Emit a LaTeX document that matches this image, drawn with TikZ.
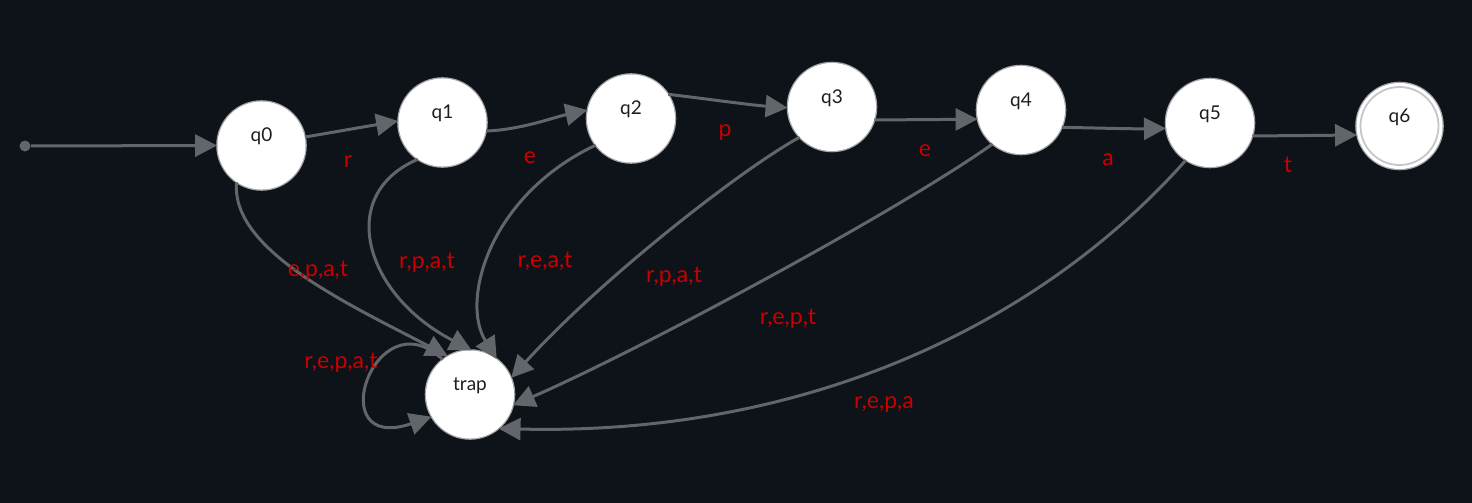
\documentclass[tikz,border=0pt]{standalone}
\usepackage{fontspec}
\setmainfont{Lato}
\usetikzlibrary{arrows.meta}
\definecolor{bgdark}{RGB}{14,18,25}
\definecolor{edgegray}{RGB}{98,101,105}
\definecolor{lblred}{RGB}{200,0,0}
\definecolor{statetxt}{RGB}{30,30,30}
\tikzset{
  state/.style={circle, fill=white, minimum size=44pt, inner sep=0pt,
    preaction={draw=white!62!bgdark, line width=1.3pt}},
  statename/.style={text=statetxt, font=\fontsize{9.5}{11}\selectfont, yshift=4.4pt},
  startdot/.style={circle, fill=edgegray, minimum size=5.5pt, inner sep=0pt},
  edge/.style={draw=edgegray, line width=1.5pt, -{Triangle[length=11pt,width=11pt]}},
  lbl/.style={text=lblred, font=\fontsize{11.5}{13}\selectfont, inner sep=0pt}
}
\begin{document}
\begin{tikzpicture}[x=0.5pt,y=-0.5pt]
  \fill[bgdark] (0,0) rectangle (1472,503);
  \useasboundingbox (0,0) rectangle (1472,503);

  % states
  \node[startdot] (s) at (25,146) {};
  \node[state, label={[statename]center:q0}] (q0) at (261.5,145.5) {};
  \node[state, label={[statename]center:q1}] (q1) at (442.5,122.5) {};
  \node[state, label={[statename]center:q2}] (q2) at (631,118.5) {};
  \node[state, label={[statename]center:q3}] (q3) at (832,107) {};
  \node[state, label={[statename]center:q4}] (q4) at (1021,110) {};
  \node[state, label={[statename]center:q5}] (q5) at (1210,123) {};
  \node[state, minimum size=43pt, label={[statename]center:q6}] (q6) at (1399.5,126) {};
  \draw[gray!45, line width=0.9pt] (q6.center) circle[radius=39];
  \node[state, label={[statename]center:trap}] (trap) at (470,394.5) {};

  % main chain
  \draw[edge] (s) -- (q0.west);
  \draw[edge] (q0.11) -- (q1.178);
  \draw[edge] (q1.349) .. controls (520,130) and (555,117) .. (q2.169);
  \draw[edge] (q2.33) .. controls (700,98) and (750,105) .. (q3.181);
  \draw[edge] (q3.-17) -- (q4.192);
  \draw[edge] (q4.-23) .. controls (1100,128) and (1130,129) .. (q5.187);
  \draw[edge] (q5.-17) -- (q6.192);

  % transitions into the trap state
  \draw[edge] (q0.236) .. controls (230,250) and (350,305) .. (trap.120);
  \draw[edge] (q1.236) .. controls (335,195) and (365,295) .. (trap.88);
  \draw[edge] (q2.217) .. controls (490,195) and (460,300) .. (trap.53);
  \draw[edge] (q3.223) .. controls (740,170) and (600,280) .. (trap.22);
  \draw[edge] (q4.230) .. controls (900,210) and (640,350) .. (trap.346);
  \draw[edge] (q5.237) .. controls (1035,330) and (798,436) .. (trap.310);
  \draw[edge] (trap.128) .. controls (375,295) and (320,455) .. (trap.210);

  % transition labels
  \node[lbl] (l01) at (348,162) {r};
  \node[lbl] (l12) at (530,158) {e};
  \node[lbl] (l23) at (725,133) {p};
  \node[lbl] (l34) at (925,151) {e};
  \node[lbl] (l45) at (1108,160) {a};
  \node[lbl] (l56) at (1288,165) {t};
  \node[lbl] (l0t) at (318,271) {e,p,a,t};
  \node[lbl] (l1t) at (427,263) {r,p,a,t};
  \node[lbl] (l2t) at (545,261) {r,e,a,t};
  \node[lbl] (l3t) at (674,277) {r,p,a,t};
  \node[lbl] (l4t) at (788,319) {r,e,p,t};
  \node[lbl] (l5t) at (884,405) {r,e,p,a};
  \node[lbl] (ltt) at (341,363) {r,e,p,a,t};
\end{tikzpicture}
\end{document}
